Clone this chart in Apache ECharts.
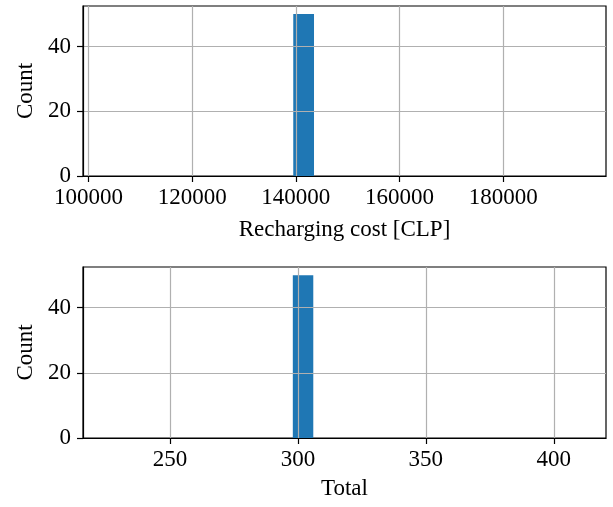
<!DOCTYPE html>
<html>
<head>
<meta charset="utf-8">
<script src="https://cdn.jsdelivr.net/npm/echarts@6/dist/echarts.min.js"></script>
<style>
html,body{margin:0;padding:0;background:#fff;}
#c{width:613px;height:507px;}
</style>
</head>
<body>
<div id="c"></div>
<script>
// Histogram 1: recharging cost
const costBinStart = [139500];
const costBinEnd = [143500];
const costCounts = [50];
const costTicks = [100000, 120000, 140000, 160000, 180000];
// Histogram 2: total
const totalBinStart = [298];
const totalBinEnd = [306];
const totalCounts = [50];
const totalTicks = [250, 300, 350, 400];
const countTicks = [0, 20, 40];

const FONT = 'Liberation Serif';
const FS = 23;

function histData(s, e, c) {
  return s.map((v, i) => [v, e[i], c[i]]);
}
function renderBar(params, api) {
  const p0 = api.coord([api.value(0), 0]);
  const p1 = api.coord([api.value(1), api.value(2)]);
  return {
    type: 'rect',
    shape: { x: p0[0], y: p1[1], width: p1[0] - p0[0], height: p0[1] - p1[1] },
    style: { fill: '#1f77b4' }
  };
}
function xAxisOpt(idx, min, max, ticks, name, gap) {
  return {
    type: 'value', gridIndex: idx, min: min, max: max, z: 5,
    name: name, nameLocation: 'middle', nameGap: gap,
    nameTextStyle: { fontFamily: FONT, fontSize: FS, color: '#000' },
    axisLine: { show: true, onZero: false, lineStyle: { color: '#000', width: 1.2 } },
    axisLabel: {
      fontFamily: FONT, fontSize: FS, color: '#000', margin: 10,
      customValues: ticks, showMinLabel: true, showMaxLabel: true,
      formatter: v => String(v)
    },
    axisTick: { show: true, length: 6, customValues: ticks, lineStyle: { color: '#000', width: 1.2 } },
    splitLine: { show: true, customValues: ticks, lineStyle: { color: '#b0b0b0', width: 1.2 } }
  };
}
function yAxisOpt(idx) {
  return {
    type: 'value', gridIndex: idx, min: 0, max: 52.5, z: 5,
    name: 'Count', nameLocation: 'middle', nameGap: 42,
    nameTextStyle: { fontFamily: FONT, fontSize: FS, color: '#000' },
    axisLine: { show: true, lineStyle: { color: '#000', width: 1.2 } },
    axisTick: { show: true, length: 6, customValues: countTicks, lineStyle: { color: '#000', width: 1.2 } },
    axisLabel: { fontFamily: FONT, fontSize: FS, color: '#000', margin: 12, customValues: countTicks },
    splitLine: { show: true, customValues: countTicks, lineStyle: { color: '#b0b0b0', width: 1.2 } }
  };
}

const chart = echarts.init(document.getElementById('c'), null, { renderer: 'canvas' });
chart.setOption({
  animation: false,
  backgroundColor: '#fff',
  grid: [
    { left: 83, right: 7, top: 6, height: 170, show: true, borderColor: '#000', borderWidth: 1.2, backgroundColor: 'transparent' },
    { left: 83, right: 7, top: 267, height: 171, show: true, borderColor: '#000', borderWidth: 1.2, backgroundColor: 'transparent' }
  ],
  xAxis: [
    xAxisOpt(0, 98958, 199800, costTicks, 'Recharging cost [CLP]', 42),
    xAxisOpt(1, 216, 420.4, totalTicks, 'Total', 39)
  ],
  yAxis: [yAxisOpt(0), yAxisOpt(1)],
  series: [
    { type: 'custom', xAxisIndex: 0, yAxisIndex: 0, renderItem: renderBar, z: 1,
      encode: { x: [0, 1], y: 2 }, data: histData(costBinStart, costBinEnd, costCounts) },
    { type: 'custom', xAxisIndex: 1, yAxisIndex: 1, renderItem: renderBar, z: 1,
      encode: { x: [0, 1], y: 2 }, data: histData(totalBinStart, totalBinEnd, totalCounts) }
  ]
});
</script>
</body>
</html>
